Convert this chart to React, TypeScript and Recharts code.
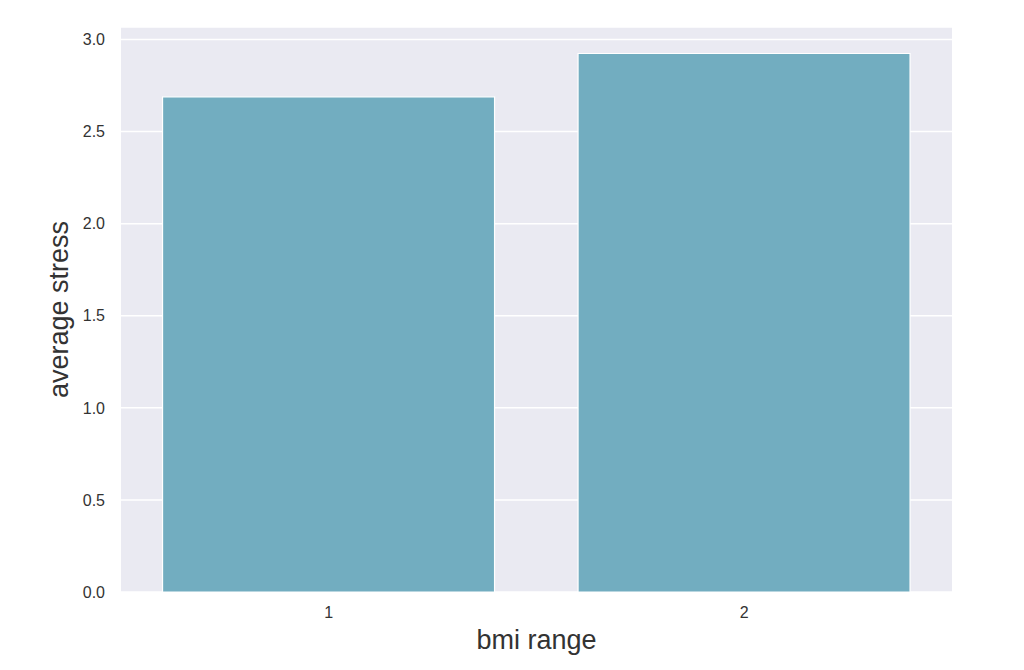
import { BarChart, Bar, XAxis, YAxis, CartesianGrid, Label } from "recharts"

const bmiRanges = ["1", "2"]
const avgStress = [2.689, 2.924]
const yTicks = [0, 0.5, 1.0, 1.5, 2.0, 2.5, 3.0]

const data = bmiRanges.map((bmi, i) => ({ bmi, stress: avgStress[i] }))

const TEXT = "#333333"
const FONT = "Liberation Sans, Arial, sans-serif"

export default function App() {
  return (
    <div style={{ position: "absolute", left: 0, top: 0, width: 1024, height: 670, background: "#fff" }}>
      <BarChart
        width={1024}
        height={670}
        data={data}
        margin={{ top: 27, right: 72, left: 0, bottom: 0 }}
        barCategoryGap="10%"
      >
        <CartesianGrid fill="#eaeaf2" stroke="#ffffff" strokeWidth={1.5} vertical={false} />
        <XAxis
          dataKey="bmi"
          height={78}
          axisLine={false}
          tickLine={false}
          tickSize={0}
          tickMargin={15}
          tick={{ fill: TEXT, fontSize: 16, fontFamily: FONT }}
        >
          <Label
            value="bmi range"
            position="center"
            dy={8}
            style={{ fill: TEXT, fontSize: 27, fontFamily: FONT }}
          />
        </XAxis>
        <YAxis
          width={121}
          domain={[0, 3.068]}
          ticks={yTicks}
          interval={0}
          tickFormatter={(v: number) => v.toFixed(1)}
          axisLine={false}
          tickLine={false}
          tickSize={0}
          tickMargin={16}
          tick={{ fill: TEXT, fontSize: 16, fontFamily: FONT }}
        >
          <Label
            value="average stress"
            position="center"
            angle={-90}
            dx={-2}
            style={{ fill: TEXT, fontSize: 27, fontFamily: FONT, textAnchor: "middle" }}
          />
        </YAxis>
        <Bar dataKey="stress" fill="#72adc0" stroke="#ffffff" strokeWidth={1.2} isAnimationActive={false} />
      </BarChart>
    </div>
  )
}
